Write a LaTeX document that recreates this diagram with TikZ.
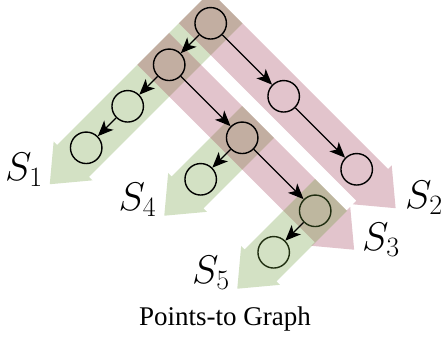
\RequirePackage{fix-cm}
\documentclass[tikz,border=0pt]{standalone}
\usepackage{fontspec}
\newfontfamily\capfont{Liberation Serif}
\usetikzlibrary{arrows.meta}
\definecolor{pinkc}{RGB}{158,58,85}
\definecolor{greenc}{RGB}{108,155,58}
\tikzset{
  vert/.style={circle, draw=black, line width=1.4pt, minimum size=31.5pt, inner sep=0pt},
  link/.style={line width=1.2pt, -{Stealth[length=15.5pt,width=13pt,inset=4pt]}},
  lbl/.style={font=\fontsize{40}{48}\selectfont, inner sep=0pt, anchor=base west},
  capt/.style={font=\capfont\fontsize{27}{31}\selectfont, inner sep=0pt, anchor=base},
}
\newcommand\myband[4]{%
  \begin{scope}[shift={(#1)}, rotate=#2]
    \fill[#4, opacity=0.3] (-22.5,-22.5) -- (#3,-22.5) -- (#3,-27.5) -- ({#3+33},0)
      -- (#3,27.5) -- (#3,22.5) -- (-22.5,22.5) -- cycle;
  \end{scope}}
\begin{document}
\begin{tikzpicture}[x=1pt,y=-1pt]
\useasboundingbox (0,0) rectangle (445,337);
% positions
\coordinate (r) at (210.7,23.3);
\coordinate (a) at (169.2,64.8);
\coordinate (g1) at (127.7,106.3);
\coordinate (g2) at (86.2,147.8);
\coordinate (p1) at (283.7,96.3);
\coordinate (p2) at (356.7,169.3);
\coordinate (b) at (242.2,137.8);
\coordinate (c) at (315.2,210.8);
\coordinate (g4) at (200.7,179.3);
\coordinate (g5) at (273.7,252.3);
% bands
\myband{r}{-135}{194.6}{greenc}
\myband{r}{-45}{228.5}{pinkc}
\myband{b}{-135}{77.2}{greenc}
\myband{a}{-45}{228.5}{pinkc}
% vertices
\node[vert] (nr) at (r) {};
\node[vert] (na) at (a) {};
\node[vert] (ng1) at (g1) {};
\node[vert] (ng2) at (g2) {};
\node[vert] (np1) at (p1) {};
\node[vert] (np2) at (p2) {};
\node[vert] (nb) at (b) {};
\node[vert] (nc) at (c) {};
\node[vert] (ng4) at (g4) {};
\node[vert] (ng5) at (g5) {};
% last band over the vertices
\myband{c}{-135}{77.2}{greenc}
% connectors
\draw[link] (nr) -- (na);
\draw[link] (nr) -- (np1);
\draw[link] (np1) -- (np2);
\draw[link] (na) -- (ng1);
\draw[link] (ng1) -- (ng2);
\draw[link] (na) -- (nb);
\draw[link] (nb) -- (nc);
\draw[link] (nb) -- (ng4);
\draw[link] (nc) -- (ng5);
% labels
\node[lbl] (l1) at (5,180) {$S_1$};
\node[lbl] (l2) at (405,208.5) {$S_2$};
\node[lbl] (l3) at (362,250) {$S_3$};
\node[lbl] (l4) at (118.5,210.5) {$S_4$};
\node[lbl] (l5) at (192,283.5) {$S_5$};
\node[capt] (cap) at (225,325) {Points-to Graph};
\end{tikzpicture}
\end{document}
